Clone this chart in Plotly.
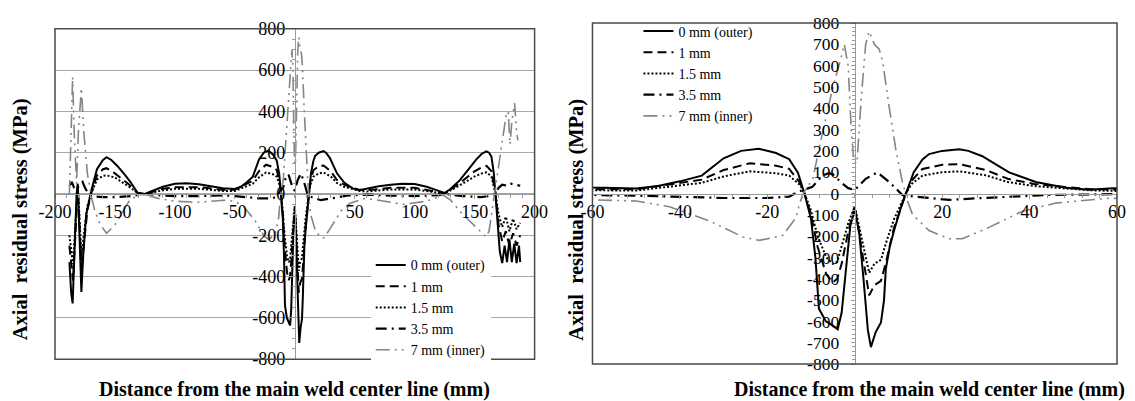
import plotly.graph_objects as go

# ---------------- data (x in mm, axial residual stress in MPa) ----------------
x_0mm = [-188, -186.5, -185.3, -184, -182, -181, -179.5, -178, -176.5, -174, -170, -165, -160, -157, -153, -148,
         -142, -137, -131, -125, -120, -110, -100, -90, -80, -70, -60, -50, -45, -40, -35, -30, -26, -22, -18,
         -15, -13, -11.5, -10, -9, -8.2, -6.6, -5, -3.9, -3, -2, -1, 0, 1, 2, 3, 3.7, 4.8, 6, 6.7, 7.1, 8, 9,
         10.5, 11.7, 13.5, 15.5, 17, 20, 23.9, 26, 29.2, 32, 35.3, 41.4, 48.3, 53.6, 60, 70, 80, 90, 100, 110,
         120, 125, 130, 137.5, 145, 151.4, 156, 159.7, 162, 164, 166, 167.4, 169, 171, 173, 175, 177, 179, 181,
         183, 185, 187, 188]
y_0mm = [-330, -480, -530, -300, 0, 50, -200, -475, -300, -100, 10, 120, 165, 178, 165, 136,
         95, 58, 5, 0, 12, 35, 50, 52, 47, 38, 28, 24, 35, 57, 84, 165, 200, 210, 190,
         161, 98, 0, -120, -300, -540, -600, -620, -637, -560, -350, -150, -80, -180, -400, -640, -721, -650, -605, -500, -356, -250, -174,
         -70, 0, 100, 160, 185, 200, 208, 200, 175, 140, 99, 54, 27, 18, 27, 38, 45, 50, 48, 35,
         15, 5, 25, 66, 120, 168, 195, 207, 200, 181, 100, 0, -150, -280, -335, -250, -330, -220, -330,
         -240, -335, -250, -330]

x_1mm = [-188, -186, -185, -183, -181, -179.5, -178, -176, -173, -170, -165, -160, -157, -150, -143, -137, -131,
         -125, -110, -100, -80, -60, -50, -40, -35, -30, -24, -18, -15, -12.5, -11.5, -10, -8.5, -6.5, -5, -4,
         -3, -1.5, 0, 1.5, 3.3, 4.5, 6, 7.1, 9, 11.7, 13, 15.5, 20, 24, 30, 35, 41, 48, 54, 60, 80, 100, 120,
         125, 137, 150, 156, 160, 164, 167.4, 170, 173, 176, 179, 182, 185, 188]
y_1mm = [-250, -380, -420, -200, 40, -150, -380, -250, -80, 0, 90, 120, 125, 100, 70, 40, 5,
         0, 25, 33, 33, 20, 20, 48, 65, 110, 142, 130, 116, 50, 0, -100, -250, -380, -417, -400,
         -330, -180, -60, -250, -478, -430, -410, -326, -160, 0, 60, 115, 135, 138, 110, 69, 45, 31, 20, 18, 30, 30, 10,
         3, 50, 110, 130, 136, 110, 0, -150, -230, -180, -250, -190, -250, -200]

x_15mm = x_1mm
y_15mm = [-200, -300, -340, -150, 30, -120, -300, -200, -60, 0, 70, 88, 90, 80, 55, 30, 5,
          0, 18, 25, 25, 15, 14, 39, 50, 80, 104, 95, 84, 40, 0, -80, -200, -300, -330, -320,
          -250, -140, -60, -200, -372, -330, -311, -235, -120, 0, 45, 84, 100, 104, 85, 54, 35, 24, 15, 12, 22, 22, 8,
          2, 40, 85, 100, 105, 85, 0, -100, -160, -110, -180, -120, -170, -140]

x_35mm = [-188, -186, -184, -182, -180, -177, -175, -172, -170, -160, -150, -140, -130, -125, -110, -100, -80,
          -60, -50, -40, -30, -20, -15, -13, -11, -9.7, -7.4, -6, -5, -3, -1.5, 0, 2.5, 5.2, 7.9, 10.9, 14, 21.6,
          29.2, 36.9, 44.5, 60, 80, 100, 120, 125, 140, 155, 163, 167, 170, 173, 177, 180, 184, 188]
y_35mm = [40, 58, 30, 20, 40, 58, 30, 0, -10, -15, -15, -12, -5, 0, -8, -10, -10,
          -7, -10, -15, -21, -21, -15, 8, 20, 31, 84, 95, 90, 50, 25, 16, 69, 99, 54, -7, -15, -30,
          -21, -15, -7, -3, -8, -10, -5, 0, -10, -15, -10, 0, 30, 45, 40, 50, 45, 40]

x_7mm = [-188, -186.5, -185.3, -184, -182, -180.5, -178, -176, -173, -169.4, -166.7, -162, -157, -150, -143,
         -137.5, -130, -125, -115, -100, -80, -60, -50, -42.4, -33.3, -25.6, -21.8, -16.5, -13.4, -12.7, -11.8,
         -9.6, -7.4, -5, -3.2, -2.4, -1.5, -0.8, -0.2, 0.5, 1.5, 2.5, 3.3, 4.5, 5.6, 6.4, 7.9, 9.4, 10.9, 12.1,
         13.2, 17, 21.6, 24.6, 30.7, 35.3, 38.4, 46, 58.2, 70, 90, 110, 123.6, 130, 140, 154, 159.7, 162, 165.3,
         170.8, 176.4, 178, 179.5, 181, 183.3, 185, 186]
y_7mm = [0, 400, 568, 300, 50, 300, 513, 300, 100, -20, -83, -150, -190, -150, -80,
         -28, -5, 0, -20, -35, -40, -30, -35, -62, -128, -204, -220, -197, -113, -52, 0,
         69, 282, 500, 631, 700, 600, 300, 150, 140, 450, 700, 760, 700, 677, 616, 403, 206, 54, -37,
         -98, -174, -212, -212, -159, -113, -83, -45, -22, -30, -50, -35, -5, -30, -99, -177, -208, -180, -52,
         183, 387, 400, 240, 350, 440, 300, 260]

series_names = ["0 mm (outer)", "1 mm", "1.5 mm", "3.5 mm", "7 mm (inner)"]
series_x = [x_0mm, x_1mm, x_15mm, x_35mm, x_7mm]
series_y = [y_0mm, y_1mm, y_15mm, y_35mm, y_7mm]

left_xticks = [-200, -150, -100, -50, 50, 100, 150, 200]
left_xticktext = ["-200", "-150", "-100", "-50", "50", "100", "150", "200"]
left_yticks = [-800, -600, -400, -200, 0, 200, 400, 600, 800]
left_yticktext = ["-800", "-600", "-400", "-200", "0", "200", "400", "600", "800"]
right_xticks = [-60, -40, -20, 20, 40, 60]
right_xticktext = ["-60", "-40", "-20", "20", "40", "60"]
right_yticks = [-800, -700, -600, -500, -400, -300, -200, -100, 0, 100, 200, 300, 400, 500, 600, 700, 800]
right_yticktext = ["-800", "-700", "-600", "-500", "-400", "-300", "-200", "-100", "0",
                   "100", "200", "300", "400", "500", "600", "700", "800"]

# ---------------- styles ----------------
styles = [
    dict(color="black", width=2, dash="solid"),
    dict(color="black", width=2, dash="9px,5px"),
    dict(color="black", width=2, dash="2px,2px"),
    dict(color="black", width=2.2, dash="11px,5px,2px,5px"),
    dict(color="#858585", width=1.6, dash="14px,5px,2px,5px,2px,5px"),
]

FONT = "Liberation Serif"

fig = go.Figure()
for name, xs, ys, st in zip(series_names, series_x, series_y, styles):
    fig.add_trace(go.Scatter(x=xs, y=ys, mode="lines", name=name, line=st,
                             xaxis="x", yaxis="y", legend="legend"))
    fig.add_trace(go.Scatter(x=xs, y=ys, mode="lines", name=name, line=st,
                             xaxis="x2", yaxis="y2", legend="legend2"))

axis_line = "#9a9a9a"
tickfont = dict(family=FONT, size=18, color="black")

fig.update_layout(
    width=1127, height=393,
    margin=dict(l=47, r=17, t=5, b=37),
    paper_bgcolor="white", plot_bgcolor="white",
    font=dict(family=FONT, color="black"),
    xaxis=dict(domain=[0, 0.4516], range=[-200, 200], anchor="free", position=0.4986,
               tickmode="array", tickvals=left_xticks, ticktext=left_xticktext,
               ticks="outside", ticklen=4,
               tickcolor=axis_line, showgrid=False, zeroline=False, showline=True,
               linecolor=axis_line, linewidth=1, tickfont=tickfont, ticklabelstandoff=-3,
               minor=dict(dtick=10, ticks="outside", ticklen=3, tickcolor=axis_line, showgrid=False)),
    yaxis=dict(domain=[0.0142, 0.9829], range=[-800, 800], anchor="free", position=0.2258,
               side="left",
               tickmode="array", tickvals=left_yticks, ticktext=left_yticktext,
               ticks="outside", ticklen=6, tickcolor=axis_line,
               showgrid=True, gridcolor="#a8a8a8", gridwidth=1, zeroline=False,
               showline=True, linecolor=axis_line, linewidth=1, tickfont=tickfont,
               minor=dict(dtick=50, ticks="outside", ticklen=3, tickcolor=axis_line, showgrid=False)),
    xaxis2=dict(domain=[0.5061, 1], range=[-60, 60], anchor="free", position=0.5,
                tickmode="array", tickvals=right_xticks, ticktext=right_xticktext,
                ticks="outside", ticklen=4,
                tickcolor=axis_line, showgrid=False, zeroline=False, showline=True,
                linecolor=axis_line, linewidth=1, tickfont=tickfont, ticklabelstandoff=-2,
                minor=dict(dtick=4, ticks="outside", ticklen=3, tickcolor=axis_line, showgrid=False)),
    yaxis2=dict(domain=[0, 1], range=[-800, 800], anchor="free", position=0.753,
                side="left",
                tickmode="array", tickvals=right_yticks, ticktext=right_yticktext,
                ticks="outside", ticklen=4, tickcolor=axis_line,
                showgrid=False, zeroline=False, showline=True, linecolor=axis_line,
                linewidth=1, tickfont=dict(family=FONT, size=17.5, color="black"),
                ticklabelstandoff=8,
                minor=dict(dtick=20, ticks="outside", ticklen=3, tickcolor=axis_line, showgrid=False)),
    legend=dict(x=0.2973, y=0.336, xanchor="left", yanchor="top", bgcolor="white",
                entrywidth=140, entrywidthmode="pixels",
                font=dict(family=FONT, size=14, color="black"), tracegroupgap=0),
    legend2=dict(x=0.5494, y=1.022, xanchor="left", yanchor="top", bgcolor="rgba(0,0,0,0)",
                 font=dict(family=FONT, size=14, color="black"), tracegroupgap=0),
    showlegend=True,
)

# plot frames
fig.add_shape(type="rect", xref="x domain", yref="y domain", x0=0, x1=1, y0=0, y1=1,
              line=dict(color="#4a4a4a", width=1.5), fillcolor="rgba(0,0,0,0)", layer="above")
fig.add_shape(type="rect", xref="x2 domain", yref="y2 domain", x0=0, x1=1, y0=0, y1=1,
              line=dict(color="#4a4a4a", width=1.5), fillcolor="rgba(0,0,0,0)", layer="above")

ytitle = "Axial\u00a0\u00a0residual stress (MPa)"
xtitle = "Distance from the main weld center line (mm)"
for xpos in (-0.0329, 0.491):
    fig.add_annotation(text="<b>" + ytitle + "</b>", xref="paper", yref="paper", x=xpos, y=0.4246,
                       textangle=-90, showarrow=False, font=dict(family=FONT, size=20.5, color="black"),
                       xanchor="center", yanchor="middle")
for xpos in (0.2258, 0.8235):
    fig.add_annotation(text="<b>" + xtitle + "</b>", xref="paper", yref="paper", x=xpos, y=-0.074,
                       showarrow=False, font=dict(family=FONT, size=20, color="black"),
                       xanchor="center", yanchor="middle")

fig.write_html("out.html")
